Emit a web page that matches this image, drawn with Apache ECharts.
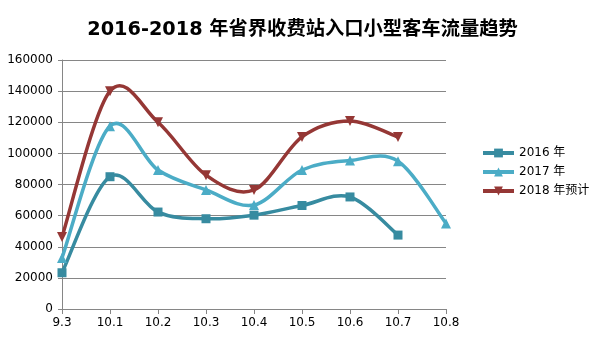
<!DOCTYPE html>
<html>
<head>
<meta charset="utf-8">
<script src="https://cdn.jsdelivr.net/npm/echarts@6/dist/echarts.min.js"></script>
<style>html,body{margin:0;padding:0;background:#fff}#c{width:605px;height:340px}</style>
</head>
<body>
<div id="c"></div>
<script>
const categories = ['9.3','10.1','10.2','10.3','10.4','10.5','10.6','10.7','10.8'];
const s2016 = [23300, 85000, 62300, 58000, 60300, 66500, 72000, 47500, null];
const s2017 = [32800, 117500, 89300, 76500, 66800, 89300, 95400, 95000, 55000];
const s2018 = [46300, 140000, 120000, 86000, 76500, 110600, 120800, 110500, null];
const yTicks = [0, 20000, 40000, 60000, 80000, 100000, 120000, 140000, 160000];

const colors = {c2016: '#378BA0', c2017: '#4BACC6', c2018: '#953735'};
const chart = echarts.init(document.getElementById('c'), null, {renderer: 'canvas'});
const font = '"DejaVu Sans", "Noto Sans CJK SC", sans-serif';

// Excel-like smoothed curve: one cubic bezier per segment, built from the data through api.coord
function curveSeries(name, data, color) {
  const n = data.filter(v => v != null).length;
  const segs = [];
  for (let i = 0; i < n - 1; i++) segs.push([i, data[i]]);
  return {
    name: name, type: 'custom', silent: true, z: 2,
    data: segs,
    encode: {x: 0, y: 1},
    renderItem: function (params, api) {
      const i = params.dataIndex;
      const p = k => api.coord([Math.max(0, Math.min(n - 1, k)), data[Math.max(0, Math.min(n - 1, k))]]);
      const p0 = p(i - 1), p1 = p(i), p2 = p(i + 1), p3 = p(i + 2);
      return {
        type: 'bezierCurve',
        shape: {
          x1: p1[0], y1: p1[1], x2: p2[0], y2: p2[1],
          cpx1: p1[0] + (p2[0] - p0[0]) / 6, cpy1: p1[1] + (p2[1] - p0[1]) / 6,
          cpx2: p2[0] - (p3[0] - p1[0]) / 6, cpy2: p2[1] - (p3[1] - p1[1]) / 6
        },
        style: {stroke: color, lineWidth: 3.5, fill: null, lineCap: 'round'}
      };
    }
  };
}
function markSeries(name, data, color, symbol, size, rotate) {
  return {
    name: name, type: 'line', data: data, z: 3,
    symbol: symbol, symbolSize: size, symbolRotate: rotate || 0, showAllSymbol: true,
    lineStyle: {width: 3.5, color: color, opacity: 0}, itemStyle: {color: color, opacity: 1},
    emphasis: {disabled: true}, animation: false
  };
}
chart.setOption({
  animation: false,
  textStyle: {fontFamily: font},
  title: {
    text: '2016-2018 年省界收费站入口小型客车流量趋势',
    left: 'center', top: 15,
    textStyle: {fontFamily: font, fontSize: 19.3, fontWeight: 'bold', color: '#000'}
  },
  legend: {
    orient: 'vertical', left: 476, top: 142, itemGap: 7,
    itemWidth: 31, itemHeight: 11,
    textStyle: {fontFamily: font, fontSize: 12, color: '#000'},
    data: [
      {name: '2016 年', lineStyle: {color: colors.c2016, width: 4, opacity: 1}},
      {name: '2017 年', lineStyle: {color: colors.c2017, width: 4, opacity: 1}},
      {name: '2018 年预计', lineStyle: {color: colors.c2018, width: 4, opacity: 1}}
    ]
  },
  grid: {left: 62, right: 159, top: 60, bottom: 31, containLabel: false},
  xAxis: {
    type: 'category', data: categories, boundaryGap: false,
    axisLine: {lineStyle: {color: '#868686', width: 1}},
    axisTick: {show: true, alignWithLabel: true, length: 5, lineStyle: {color: '#868686'}},
    axisLabel: {color: '#000', fontSize: 12, fontFamily: font, margin: 8, interval: 0},
    splitLine: {show: false}
  },
  yAxis: {
    type: 'value', min: yTicks[0], max: yTicks[yTicks.length - 1], interval: yTicks[1] - yTicks[0],
    axisLine: {show: true, lineStyle: {color: '#868686'}},
    axisTick: {show: true, length: 4, lineStyle: {color: '#868686'}},
    axisLabel: {color: '#000', fontSize: 12, fontFamily: font, margin: 9, formatter: v => String(v)},
    splitLine: {show: true, lineStyle: {color: '#868686', width: 1}}
  },
  series: [
    curveSeries('c2016', s2016, colors.c2016),
    curveSeries('c2017', s2017, colors.c2017),
    curveSeries('c2018', s2018, colors.c2018),
    markSeries('2016 年', s2016, colors.c2016, 'rect', 9),
    markSeries('2017 年', s2017, colors.c2017, 'triangle', 10),
    markSeries('2018 年预计', s2018, colors.c2018, 'triangle', 10, 180)
  ]
});
</script>
</body>
</html>
